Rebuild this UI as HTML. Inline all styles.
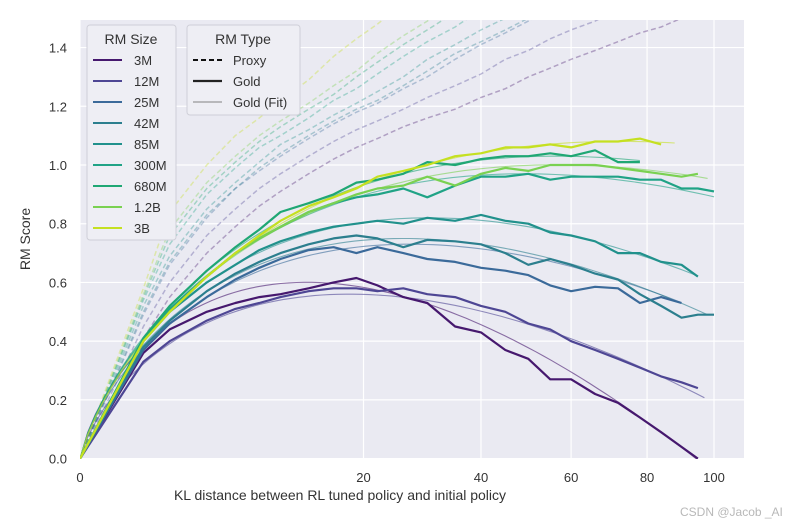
<!DOCTYPE html>
<html><head><meta charset="utf-8"><style>
html,body{margin:0;padding:0;background:#fff;width:795px;height:525px;overflow:hidden}
text{font-family:"Liberation Sans",sans-serif}
</style></head><body>
<svg id="chart" width="795" height="525" xmlns="http://www.w3.org/2000/svg">
<defs><clipPath id="clip"><rect x="80" y="20" width="664" height="439"/></clipPath></defs>
<rect x="80" y="20" width="664" height="439" fill="#eaeaf2"/>
<g id="grid"></g>
<g id="series" clip-path="url(#clip)"></g>
<g id="axes"></g>
<text x="30" y="239" font-size="14" fill="#333" text-anchor="middle" transform="rotate(-90 30 239)">RM Score</text>
<text x="340" y="500" font-size="14" fill="#333" text-anchor="middle">KL distance between RL tuned policy and initial policy</text>
<g>
<rect x="87" y="25" width="89" height="215" rx="3" fill="#eeeef4" stroke="#cfcfd8"/>
<text x="131" y="44" font-size="14" fill="#333" text-anchor="middle">RM Size</text>
<g id="legSize"></g>
</g>
<g>
<rect x="187" y="25" width="113" height="90" rx="3" fill="#eeeef4" stroke="#cfcfd8"/>
<text x="243" y="44" font-size="14" fill="#333" text-anchor="middle">RM Type</text>
<line x1="193" y1="60" x2="222" y2="60" stroke="#111" stroke-width="2" stroke-dasharray="5,3"/>
<text x="233" y="65" font-size="13" fill="#333">Proxy</text>
<line x1="193" y1="81" x2="222" y2="81" stroke="#222" stroke-width="2.2"/>
<text x="233" y="86" font-size="13" fill="#333">Gold</text>
<line x1="193" y1="102" x2="222" y2="102" stroke="#999" stroke-width="1.3"/>
<text x="233" y="107" font-size="13" fill="#333">Gold (Fit)</text>
</g>
<text x="680" y="516" font-size="12" fill="#b8b8b8">CSDN @Jacob _AI</text>
</svg>
<script>
const models = ['3M','12M','25M','42M','85M','300M','680M','1.2B','3B'];
const colors = ['#46186e','#4e4694','#3b6a9a','#2c7f8e','#21918c','#20a386','#1fa774','#7ad151','#c5e021'];
const klGrid = [0,1,2,4,6,8,10,13,16,19,22,26,30,35,40,45,50,55,60,66,72,78,84,90,95,100];
const gold3M  = [0,.36,.44,.50,.53,.55,.56,.58,.60,.615,.59,.55,.53,.45,.43,.37,.34,.27,.27,.22,.19,.14,.09,.04,0];
const gold12M = [0,.33,.40,.47,.51,.53,.55,.57,.58,.58,.57,.58,.56,.55,.52,.50,.46,.44,.40,.37,.34,.31,.28,.26,.24];
const gold25M = [0,.37,.46,.55,.61,.65,.68,.71,.72,.70,.72,.70,.68,.67,.65,.64,.625,.59,.57,.585,.58,.53,.55,.53];
const gold42M = [0,.38,.47,.57,.63,.67,.70,.73,.75,.76,.75,.72,.745,.74,.73,.70,.66,.68,.66,.63,.61,.56,.52,.48,.49,.49];
const gold85M = [0,.40,.50,.60,.66,.71,.74,.77,.79,.80,.81,.80,.82,.81,.83,.81,.80,.77,.76,.74,.70,.70,.67,.66,.62];
const gold300M= [0,.40,.51,.62,.70,.75,.79,.84,.87,.89,.90,.92,.89,.93,.96,.96,.97,.95,.96,.96,.96,.95,.95,.92,.92,.91];
const gold680M= [0,.41,.52,.64,.72,.78,.84,.87,.90,.94,.95,.97,1.01,1.00,1.02,1.03,1.03,1.04,1.03,1.05,1.01,1.01];
const gold1_2B= [0,.40,.50,.62,.70,.75,.79,.84,.87,.90,.92,.93,.96,.93,.97,.99,.98,1.00,1.00,1.00,.99,.98,.97,.96,.97];
const gold3B  = [0,.40,.50,.62,.70,.76,.81,.86,.89,.92,.96,.98,1.00,1.03,1.04,1.06,1.06,1.07,1.06,1.08,1.08,1.09,1.07];
const goldSeries = [gold3M,gold12M,gold25M,gold42M,gold85M,gold300M,gold680M,gold1_2B,gold3B];
const fitAlpha = [.382,.3225,.3719,.3865,.4033,.4083,.414,.402,.3989];
const fitBeta  = [.168,.1318,.1404,.147,.1491,.1386,.1373,.1333,.127];
const fitEndKL = [95,97,90,98,95,100,78,98,88];
const proxy3M  = [0,.41,.55,.70,.79,.86,.91,.97,1.02,1.06,1.09,1.13,1.16,1.19,1.23,1.26,1.30,1.33,1.36,1.39,1.42,1.45,1.47,1.50,1.53,1.56];
const proxy12M = [0,.45,.60,.76,.85,.92,.97,1.03,1.08,1.12,1.15,1.19,1.23,1.27,1.31,1.36,1.39,1.43,1.46,1.49,1.53,1.57];
const proxy25M = [0,.49,.66,.82,.92,.98,1.03,1.09,1.14,1.18,1.21,1.26,1.30,1.36,1.41,1.45,1.49,1.53,1.57];
const proxy42M = [0,.50,.67,.83,.92,.99,1.04,1.10,1.15,1.19,1.22,1.27,1.32,1.38,1.42,1.46,1.50,1.55];
const proxy85M = [0,.52,.69,.85,.94,1.01,1.07,1.12,1.17,1.21,1.25,1.30,1.36,1.41,1.46,1.50,1.55];
const proxy300M= [0,.54,.73,.90,.99,1.06,1.10,1.16,1.22,1.26,1.31,1.37,1.42,1.47,1.53,1.58];
const proxy680M= [0,.55,.76,.92,1.01,1.08,1.13,1.19,1.24,1.30,1.35,1.41,1.46,1.52,1.58];
const proxy1_2B= [0,.56,.78,.94,1.03,1.10,1.15,1.21,1.27,1.32,1.38,1.44,1.49,1.56];
const proxy3B  = [0,.58,.84,1.00,1.10,1.16,1.22,1.29,1.37,1.43,1.48,1.55];
const proxySeries = [proxy3M,proxy12M,proxy25M,proxy42M,proxy85M,proxy300M,proxy680M,proxy1_2B,proxy3B];
const xTicks = [0,20,40,60,80,100];
const yTicks = [0,0.2,0.4,0.6,0.8,1.0,1.2,1.4];

const NS='http://www.w3.org/2000/svg';
const X = kl => 80 + 63.4*Math.sqrt(kl);
const Y = v => 458.6 - 293.6*v;
function mk(tag, attrs, parent){const e=document.createElementNS(NS,tag);for(const k in attrs)e.setAttribute(k,attrs[k]);parent.appendChild(e);return e;}
const grid=document.getElementById('grid'), axes=document.getElementById('axes'), ser=document.getElementById('series');
yTicks.forEach(t=>{
  const l=mk('line',{x1:80,x2:744,y1:Y(t),y2:Y(t),stroke:'#fff','stroke-width':1.2},grid);
  
  
  const tx=mk('text',{x:67,y:Y(t)+5,'font-size':13,fill:'#333','text-anchor':'end'},axes);
  tx.textContent=t.toFixed(1);
  
  
});
xTicks.forEach(t=>{
  const l=mk('line',{x1:X(t),x2:X(t),y1:20,y2:459,stroke:'#fff','stroke-width':1.2},grid);
  
  
  const tx=mk('text',{x:X(t),y:482,'font-size':13,fill:'#333','text-anchor':'middle'},axes);
  tx.textContent=t;
  
  
});
function pathFrom(vals){return vals.map((v,i)=>(i?'L':'M')+X(klGrid[i]).toFixed(1)+','+Y(v).toFixed(1)).join('');}
proxySeries.forEach((vals,m)=>{
  const p=mk('path',{d:pathFrom(vals),fill:'none',stroke:colors[m],'stroke-opacity':0.35,'stroke-width':1.5,'stroke-dasharray':'5,3'},ser);
  
  
});
fitAlpha.forEach((a,m)=>{
  const b=fitBeta[m]; let d='';
  for(let i=0;i<=80;i++){const kl=Math.pow(Math.sqrt(fitEndKL[m])*i/80,2);const s=Math.sqrt(kl);const v=s>0?s*(a-b*Math.log(s)):0;d+=(i?'L':'M')+X(kl).toFixed(1)+','+Y(v).toFixed(1);}
  const p=mk('path',{d:d,fill:'none',stroke:colors[m],'stroke-opacity':0.6,'stroke-width':1.1},ser);
  
  
});
goldSeries.forEach((vals,m)=>{
  const p=mk('path',{d:pathFrom(vals),fill:'none',stroke:colors[m],'stroke-width':2.2,'stroke-linejoin':'round'},ser);
  
  
});
const leg=document.getElementById('legSize');
models.forEach((n,i)=>{
  const y=60+i*21;
  const l=mk('line',{x1:93,x2:122,y1:y,y2:y,stroke:colors[i],'stroke-width':2},leg);
  
  
  const t=mk('text',{x:134,y:y+5,'font-size':13,fill:'#333'},leg);
  t.textContent=n;
  
  
});
</script>
</body></html>
